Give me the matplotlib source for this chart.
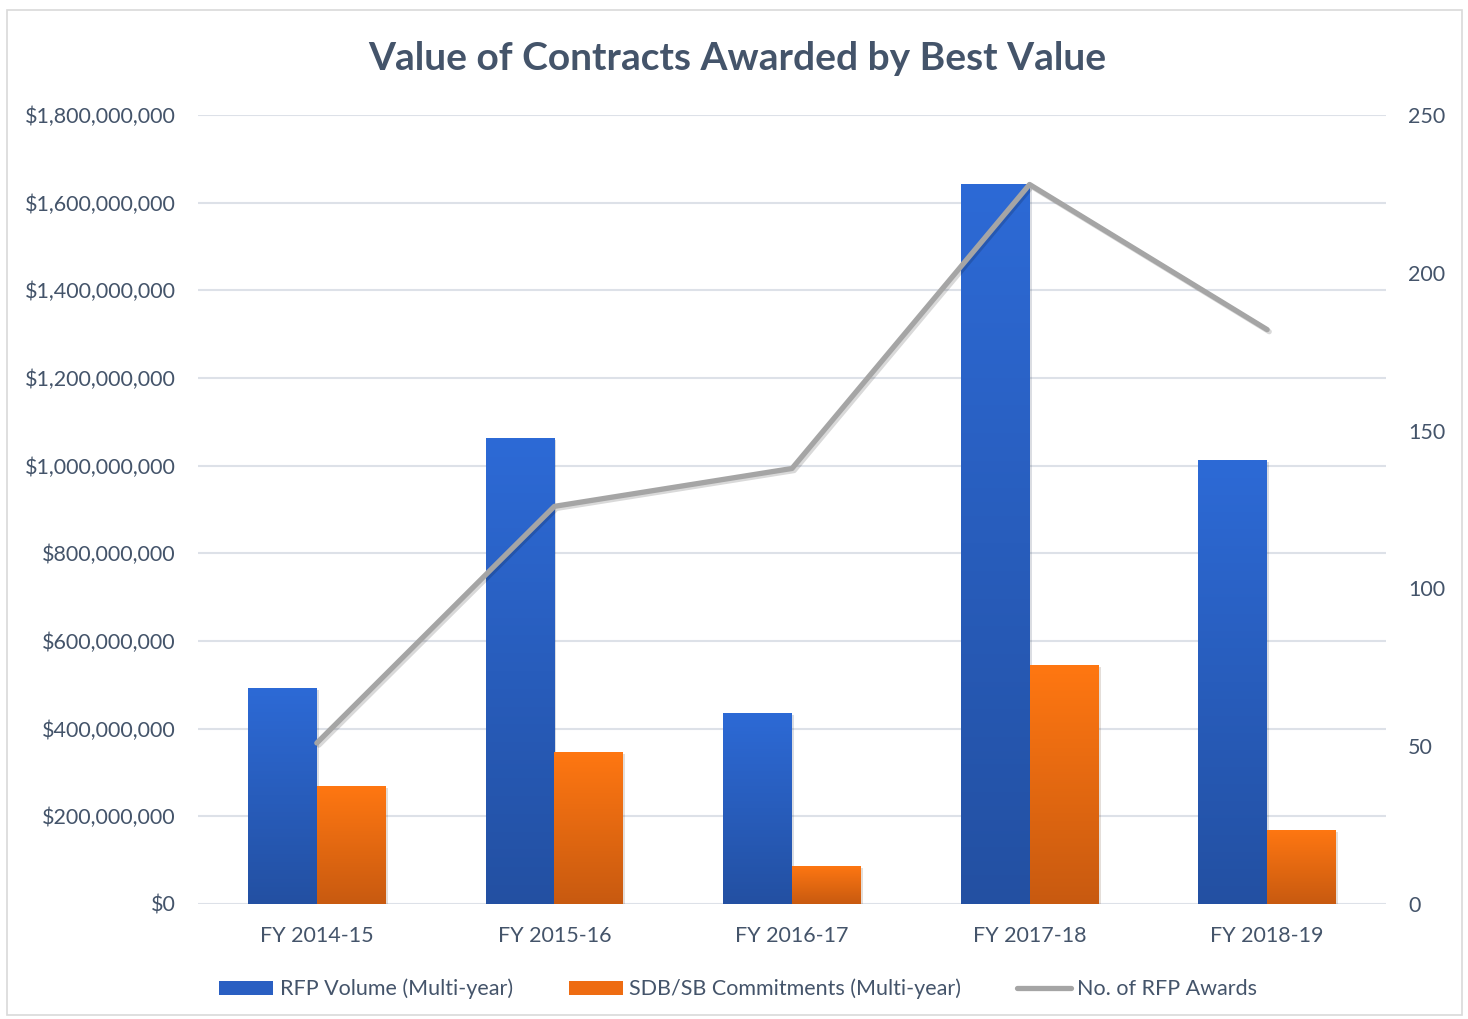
import numpy as np
import matplotlib.pyplot as plt
from matplotlib.patches import Rectangle, Patch
from matplotlib.lines import Line2D
import matplotlib.patheffects as pe

plt.rcParams['font.family'] = ['Lato', 'DejaVu Sans']

years = ['FY 2014-15', 'FY 2015-16', 'FY 2016-17', 'FY 2017-18', 'FY 2018-19']
rfp_volume = [493e6, 1063e6, 436e6, 1643e6, 1013e6]
sdb_commit = [269e6, 347e6, 87e6, 545e6, 169e6]
rfp_awards = [51, 126, 138, 228, 182]

txt = '#44546A'
grid_c = '#DDE1E8'

fig = plt.figure(figsize=(14.68, 10.19), dpi=100)
ax = fig.add_axes([0.1349, 0.1129, 0.8092, 0.7742])
ax2 = ax.twinx()

x = np.arange(len(years))
w = 0.29


def grad_bars(xs, vals, top, bottom):
    bars = ax.bar(xs, vals, width=w, color=top, zorder=2,
                  path_effects=[pe.SimplePatchShadow(offset=(1.5, -1.5), alpha=0.15), pe.Normal()])
    g = np.linspace(0, 1, 256).reshape(-1, 1)
    c0 = np.array(plt.matplotlib.colors.to_rgb(top))
    c1 = np.array(plt.matplotlib.colors.to_rgb(bottom))
    img = c0[None, None, :] * (1 - g[:, :, None]) + c1[None, None, :] * g[:, :, None]
    for b in bars:
        x0, h = b.get_x(), b.get_height()
        im = ax.imshow(img, extent=(x0, x0 + b.get_width(), 0, h), aspect='auto',
                       origin='upper', zorder=2.5)
        im.set_clip_path(b)


grad_bars(x - w / 2, rfp_volume, '#2D6AD6', '#2350A2')
grad_bars(x + w / 2, sdb_commit, '#FF7712', '#C85A10')

ax.set_xlim(-0.5, 4.5)
ax.set_ylim(0, 1.8e9)
ax.set_yticks(np.arange(0, 1.8e9 + 1, 2e8))
ax.set_yticklabels(['${:,.0f}'.format(v) for v in np.arange(0, 1.8e9 + 1, 2e8)])
ax.set_xticks(x)
ax.set_xticklabels(years)
ax.grid(axis='y', color=grid_c, lw=1.5, zorder=0)
ax.set_axisbelow(True)

ax2.plot(x, rfp_awards, color='#A5A5A5', lw=3.8, solid_capstyle='round', zorder=5,
         path_effects=[pe.SimpleLineShadow(offset=(1.5, -1.5), alpha=0.15), pe.Normal()])
ax2.set_ylim(0, 250)
ax2.set_yticks(np.arange(0, 251, 50))

for a in (ax, ax2):
    for s in a.spines.values():
        s.set_visible(False)
    a.tick_params(length=0, colors=txt, labelsize=15.5)
ax.tick_params(axis='y', pad=16)
ax.tick_params(axis='x', pad=16)
ax2.tick_params(axis='y', pad=16)

fig.text(0.5025, 0.943, 'Value of Contracts Awarded by Best Value', ha='center', va='center',
         fontsize=28, fontweight='bold', color=txt)

handles = [Patch(facecolor='#2A5FC2'), Patch(facecolor='#EE6C12'),
           Line2D([0], [0], color='#A5A5A5', lw=3.8, solid_capstyle='round')]
labels = ['RFP Volume (Multi-year)', 'SDB/SB Commitments (Multi-year)', 'No. of RFP Awards']
leg = fig.legend(handles, labels, loc='center', bbox_to_anchor=(0.503, 1 - 989 / 1019), ncol=3,
                 frameon=False, fontsize=15.5, handlelength=2.5, handleheight=0.65,
                 handletextpad=0.3, columnspacing=2.6)
for t in leg.get_texts():
    t.set_color(txt)

fig.patches.append(Rectangle((7 / 1468, 4 / 1019), 1455 / 1468, 1005 / 1019, transform=fig.transFigure,
                             fill=False, edgecolor='#D9D9D9', lw=1.2))

fig.savefig('out.png', dpi=100)
